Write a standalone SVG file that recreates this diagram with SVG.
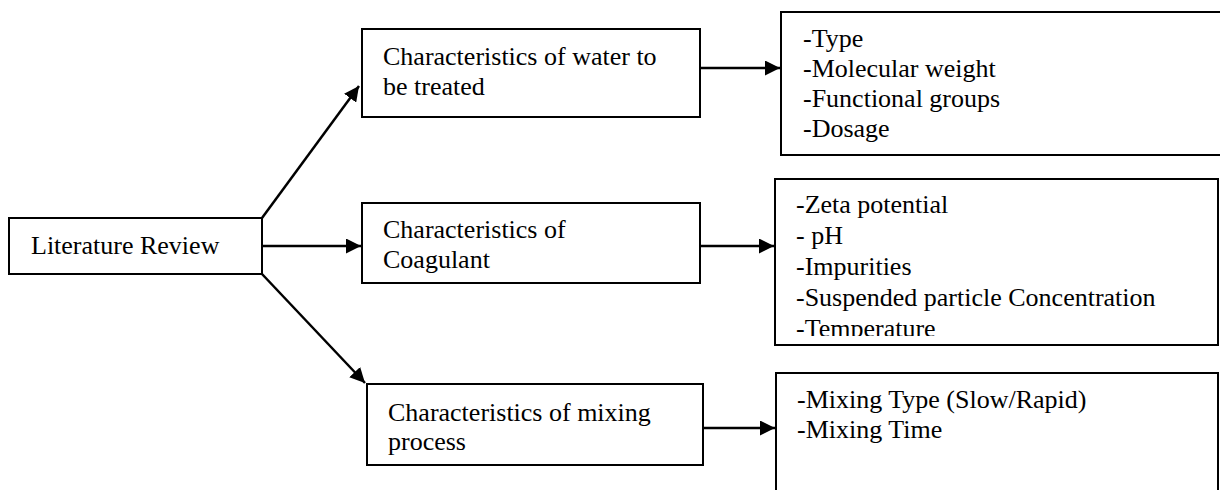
<svg xmlns="http://www.w3.org/2000/svg" width="1220" height="490" viewBox="0 0 1220 490">
<style>
.box{fill:#fff;stroke:#000;stroke-width:2}
.t{font-family:"Liberation Serif","Times New Roman",serif;font-size:26px;fill:#000}
.c{stroke:#000;stroke-width:2.5;fill:none}
</style>
<defs>
<marker id="ah" viewBox="0 0 10 10" refX="10" refY="5" markerWidth="6" markerHeight="6" markerUnits="strokeWidth" orient="auto">
<path d="M0,0 L10,5 L0,10 z" fill="#000"/>
</marker>
<clipPath id="clipC2"><rect x="775" y="179" width="445" height="157"/></clipPath>
</defs>
<rect width="1220" height="490" fill="#fff"/>
<g id="connectors">
<line class="c" x1="262" y1="218" x2="359" y2="86" marker-end="url(#ah)"/>
<line class="c" x1="262" y1="246" x2="361" y2="246" marker-end="url(#ah)"/>
<line class="c" x1="262" y1="274" x2="365" y2="383" marker-end="url(#ah)"/>
<line class="c" x1="700" y1="68" x2="780" y2="68" marker-end="url(#ah)"/>
<line class="c" x1="700" y1="246" x2="774" y2="246" marker-end="url(#ah)"/>
<line class="c" x1="703" y1="428" x2="775" y2="428" marker-end="url(#ah)"/>
</g>
<g id="literature-review">
<rect class="box" x="9" y="218" width="253" height="56"/>
<text class="t" x="31" y="254">Literature Review</text>
</g>
<g id="water-characteristics">
<rect class="box" x="362" y="29" width="338" height="88"/>
<text class="t" x="383" y="65">Characteristics of water to</text>
<text class="t" x="383" y="95">be treated</text>
</g>
<g id="coagulant-characteristics">
<rect class="box" x="362" y="203" width="338" height="80"/>
<text class="t" x="383" y="238">Characteristics of</text>
<text class="t" x="383" y="268">Coagulant</text>
</g>
<g id="mixing-characteristics">
<rect class="box" x="367" y="384" width="336" height="81"/>
<text class="t" x="388" y="421">Characteristics of mixing</text>
<text class="t" x="388" y="450">process</text>
</g>
<g id="water-parameters">
<rect class="box" x="781" y="12" width="445" height="143"/>
<text class="t" x="803" y="47">-Type</text>
<text class="t" x="803" y="77">-Molecular weight</text>
<text class="t" x="803" y="107">-Functional groups</text>
<text class="t" x="803" y="137">-Dosage</text>
</g>
<g id="coagulant-parameters">
<rect class="box" x="775" y="179" width="443" height="166"/>
<g clip-path="url(#clipC2)">
<text class="t" x="796" y="213">-Zeta potential</text>
<text class="t" x="796" y="244">- pH</text>
<text class="t" x="796" y="275">-Impurities</text>
<text class="t" x="796" y="306">-Suspended particle Concentration</text>
<text class="t" x="796" y="337">-Temperature</text>
</g>
</g>
<g id="mixing-parameters">
<rect class="box" x="776" y="373" width="442" height="130"/>
<text class="t" x="797" y="408">-Mixing Type (Slow/Rapid)</text>
<text class="t" x="797" y="438">-Mixing Time</text>
</g>
</svg>
